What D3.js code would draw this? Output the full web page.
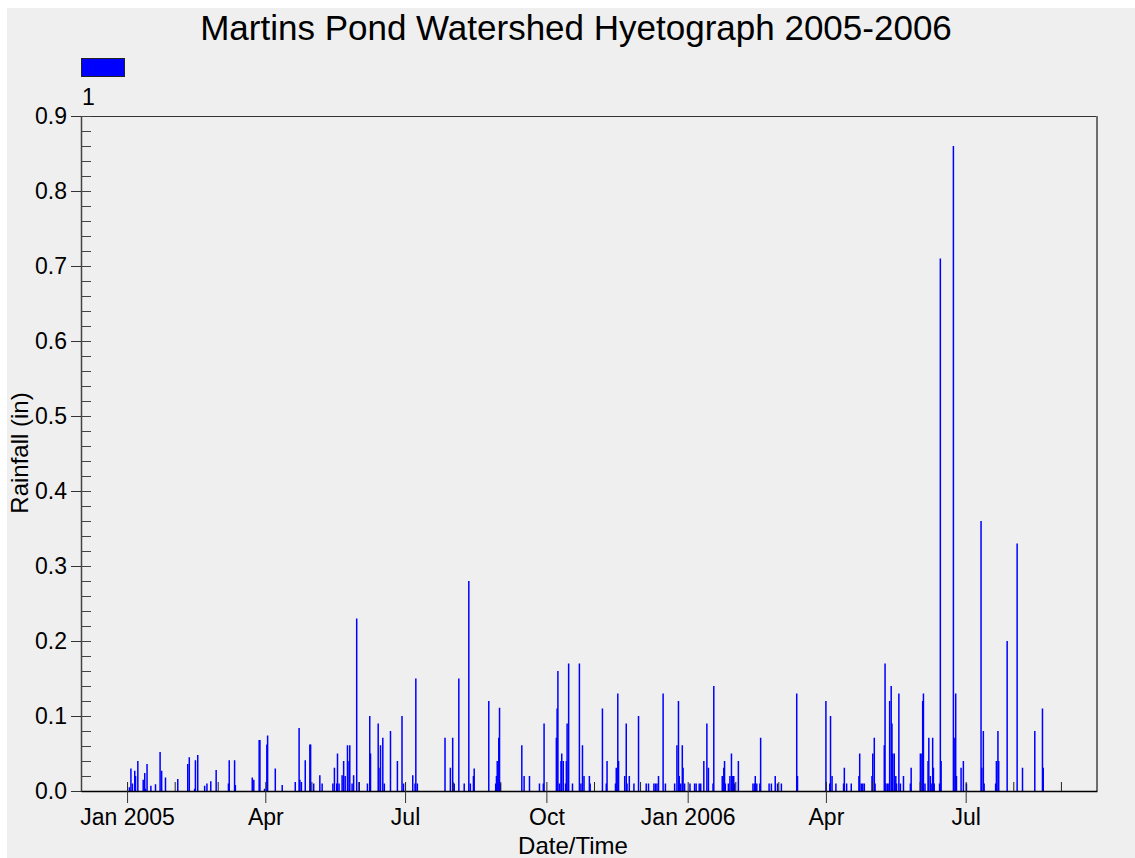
<!DOCTYPE html>
<html><head><meta charset="utf-8">
<script src="https://cdn.jsdelivr.net/npm/d3@7"></script>
<style>
body{margin:0;background:#fff}
svg{display:block}
text{font-family:"Liberation Sans",Arial,sans-serif;fill:#000}
</style>
</head><body>
<svg id="chart" width="1135" height="858"></svg>
<script>
const chartTitle = "Martins Pond Watershed Hyetograph 2005-2006";
const seriesName = "1";
const xTitle = "Date/Time";
const yTitle = "Rainfall (in)";

const dates = [
"2005-01-02 12","2005-01-03 12","2005-01-04 12","2005-01-06 00","2005-01-06 12","2005-01-08 00","2005-01-11 12","2005-01-12 12","2005-01-13 00","2005-01-14 00",
"2005-01-16 12","2005-01-19 12","2005-01-22 12","2005-01-23 12","2005-01-26 00","2005-02-03 00","2005-02-09 12","2005-02-10 12","2005-02-14 00","2005-02-14 12",
"2005-02-16 00","2005-02-20 12","2005-02-22 00","2005-02-24 12","2005-02-28 00","2005-03-08 00","2005-03-08 12","2005-03-12 00","2005-03-12 12","2005-03-23 12",
"2005-03-24 12","2005-03-28 00","2005-03-28 12","2005-03-31 12","2005-04-02 00","2005-04-02 12","2005-04-07 12","2005-04-12 00","2005-04-20 12","2005-04-23 00",
"2005-04-23 12","2005-04-24 12","2005-04-27 00","2005-04-30 00","2005-04-30 12","2005-05-02 12","2005-05-06 12","2005-05-08 00","2005-05-15 00","2005-05-16 00",
"2005-05-17 12","2005-05-18 00","2005-05-19 00","2005-05-21 00","2005-05-22 00","2005-05-23 00","2005-05-24 12","2005-05-25 12","2005-05-26 00","2005-05-27 12",
"2005-05-28 12","2005-05-30 12","2005-06-01 00","2005-06-06 12","2005-06-08 00","2005-06-08 12","2005-06-13 12","2005-06-14 00","2005-06-15 00","2005-06-16 12",
"2005-06-17 12","2005-06-21 12","2005-06-26 00","2005-06-29 00","2005-06-30 00","2005-07-06 00","2005-07-07 12","2005-07-08 00","2005-07-09 00","2005-07-27 00",
"2005-07-30 12","2005-08-01 00","2005-08-02 00","2005-08-05 00","2005-08-08 12","2005-08-11 12","2005-08-12 12","2005-08-14 12","2005-08-15 00","2005-08-24 12",
"2005-08-29 00","2005-08-29 12","2005-08-30 00","2005-08-31 00","2005-08-31 12","2005-09-01 00","2005-09-15 00","2005-09-16 12","2005-09-20 00","2005-09-26 12",
"2005-09-29 00","2005-09-29 12","2005-10-07 12","2005-10-08 00","2005-10-08 12","2005-10-09 12","2005-10-10 12","2005-10-11 00","2005-10-12 00","2005-10-13 12",
"2005-10-14 00","2005-10-14 12","2005-10-15 12","2005-10-18 00","2005-10-22 12","2005-10-23 12","2005-10-24 12","2005-10-25 12","2005-10-29 00","2005-10-29 12",
"2005-11-06 12","2005-11-09 00","2005-11-09 12","2005-11-15 00","2005-11-15 12","2005-11-16 12","2005-11-17 00","2005-11-21 00","2005-11-22 00","2005-11-22 12",
"2005-11-24 00","2005-11-27 00","2005-11-30 00","2005-12-05 00","2005-12-06 12","2005-12-10 00","2005-12-11 00","2005-12-12 00","2005-12-13 00","2005-12-16 00",
"2005-12-17 12","2005-12-23 12","2005-12-25 00","2005-12-26 00","2005-12-26 12","2005-12-27 12","2005-12-28 12","2005-12-29 00","2005-12-30 00","2006-01-02 12",
"2006-01-05 12","2006-01-06 12","2006-01-08 12","2006-01-09 12","2006-01-11 12","2006-01-13 12","2006-01-14 12","2006-01-17 12","2006-01-18 00","2006-01-23 12",
"2006-01-24 12","2006-01-25 00","2006-01-25 12","2006-01-27 12","2006-01-28 12","2006-01-29 12","2006-01-30 00","2006-01-31 00","2006-01-31 12","2006-02-03 00",
"2006-02-12 12","2006-02-13 12","2006-02-14 00","2006-02-15 00","2006-02-17 00","2006-02-17 12","2006-02-23 00","2006-02-24 12","2006-02-27 00","2006-02-28 12",
"2006-03-03 00","2006-03-13 00","2006-03-13 12","2006-04-01 00","2006-04-03 12","2006-04-04 00","2006-04-05 00","2006-04-07 12","2006-04-12 12","2006-04-13 00",
"2006-04-14 12","2006-04-17 12","2006-04-22 12","2006-04-23 00","2006-04-24 00","2006-04-25 00","2006-04-26 00","2006-05-01 00","2006-05-01 12","2006-05-02 12",
"2006-05-03 00","2006-05-09 00","2006-05-09 12","2006-05-10 00","2006-05-11 00","2006-05-12 00","2006-05-12 12","2006-05-13 12","2006-05-14 00","2006-05-14 12",
"2006-05-15 12","2006-05-16 12","2006-05-17 00","2006-05-18 12","2006-05-19 12","2006-05-21 12","2006-05-26 00","2006-05-26 12","2006-06-01 12","2006-06-02 12",
"2006-06-03 00","2006-06-03 12","2006-06-04 12","2006-06-06 12","2006-06-07 00","2006-06-08 00","2006-06-08 12","2006-06-09 12","2006-06-10 00","2006-06-10 12",
"2006-06-14 00","2006-06-14 12","2006-06-15 00","2006-06-23 00","2006-06-23 12","2006-06-24 12","2006-06-25 00","2006-06-28 00","2006-06-29 12","2006-07-01 12",
"2006-07-11 00","2006-07-11 12","2006-07-12 12","2006-07-13 00","2006-07-20 12","2006-07-21 00","2006-07-22 00","2006-07-22 12","2006-07-28 00","2006-08-03 12",
"2006-08-07 00","2006-08-15 00","2006-08-20 00","2006-08-20 12"
];

const rainfall = [
0.005,0.03,0.01,0.027,0.02,0.04,0.015,0.024,0.003,0.036,
0.007,0.009,0.052,0.027,0.018,0.016,0.036,0.045,0.003,0.041,
0.048,0.007,0.01,0.013,0.028,0.01,0.041,0.041,0.008,0.018,
0.015,0.068,0.068,0.003,0.062,0.074,0.03,0.008,0.012,0.084,
0.015,0.012,0.041,0.062,0.062,0.01,0.021,0.01,0.01,0.031,
0.01,0.05,0.01,0.021,0.04,0.02,0.061,0.04,0.061,0.01,
0.021,0.23,0.012,0.01,0.1,0.05,0.09,0.031,0.061,0.071,
0.01,0.08,0.04,0.1,0.01,0.021,0.01,0.15,0.01,0.071,
0.031,0.071,0.01,0.15,0.01,0.28,0.01,0.02,0.03,0.12,
0.01,0.02,0.04,0.071,0.111,0.01,0.061,0.02,0.02,0.01,
0.01,0.09,0.071,0.11,0.16,0.01,0.04,0.05,0.04,0.01,
0.04,0.09,0.17,0.01,0.17,0.01,0.061,0.02,0.02,0.01,
0.11,0.01,0.04,0.01,0.031,0.13,0.04,0.02,0.09,0.01,
0.02,0.01,0.1,0.01,0.01,0.01,0.01,0.01,0.02,0.13,
0.01,0.01,0.061,0.12,0.02,0.01,0.061,0.031,0.01,0.01,
0.01,0.01,0.01,0.01,0.04,0.09,0.031,0.01,0.14,0.02,
0.031,0.04,0.01,0.01,0.02,0.05,0.02,0.02,0.01,0.04,
0.01,0.01,0.02,0.01,0.01,0.071,0.01,0.01,0.02,0.01,
0.01,0.13,0.02,0.12,0.01,0.1,0.02,0.01,0.01,0.031,
0.01,0.01,0.02,0.05,0.01,0.01,0.01,0.02,0.05,0.071,
0.01,0.061,0.17,0.01,0.01,0.01,0.12,0.14,0.09,0.05,
0.05,0.02,0.01,0.13,0.01,0.02,0.01,0.031,0.05,0.05,
0.12,0.13,0.01,0.04,0.071,0.02,0.01,0.071,0.031,0.01,
0.01,0.71,0.04,0.86,0.071,0.13,0.02,0.031,0.04,0.01,
0.36,0.031,0.08,0.01,0.01,0.04,0.08,0.04,0.2,0.33,
0.031,0.08,0.11,0.031
];

const xDomain = ["2004-12-02 00","2006-09-24 12"];
const majorTickDates = ["2005-01-01 00","2005-04-01 00","2005-07-01 00","2005-10-01 00","2006-01-01 00","2006-04-01 00","2006-07-01 00"];
const majorTickLabels = ["Jan 2005","Apr","Jul","Oct","Jan 2006","Apr","Jul"];
const yTickValues = [0,0.1,0.2,0.3,0.4,0.5,0.6,0.7,0.8,0.9];
const yDomain = [0,0.9];

const parse = d3.timeParse("%Y-%m-%d %H");
const data = dates.map((d,i)=>({date:parse(d), value:rainfall[i]}));

const W = 1135, H = 858;
const plot = {left:81, right:1097, top:116, bottom:791};
const svg = d3.select("#chart");

svg.append("rect").attr("x",0).attr("y",0).attr("width",W).attr("height",H).attr("fill","#ffffff");
svg.append("rect").attr("x",7).attr("y",8).attr("width",W-7).attr("height",H-8).attr("fill","#efefef");

const x = d3.scaleTime().domain(xDomain.map(parse)).range([plot.left, plot.right]);
const y = d3.scaleLinear().domain(yDomain).range([plot.bottom, plot.top]);

// title
svg.append("text").attr("x",576).attr("y",40).attr("text-anchor","middle")
  .style("font-size","35px").text(chartTitle);

// legend
svg.append("rect").attr("x",81.5).attr("y",58.5).attr("width",43).attr("height",18)
  .attr("fill","#0000ff").attr("stroke","#222").attr("stroke-width",1);
svg.append("text").attr("x",82).attr("y",105).style("font-size","23px").text(seriesName);

// frame top and right
svg.append("line").attr("x1",plot.left).attr("x2",plot.right).attr("y1",plot.top+0.5).attr("y2",plot.top+0.5)
  .attr("stroke","#333").attr("stroke-width",1);
svg.append("line").attr("x1",plot.right).attr("x2",plot.right).attr("y1",plot.top).attr("y2",plot.bottom)
  .attr("stroke","#6e6e6e").attr("stroke-width",2);

// bars
const barW = 1.5;
svg.append("g").selectAll("rect").data(data).join("rect")
  .attr("x", d => x(d.date) - barW/2)
  .attr("width", barW)
  .attr("y", d => y(d.value))
  .attr("height", d => y(0) - y(d.value))
  .attr("fill", "#0000ff");

// y axis
const yAxis = svg.append("g").attr("transform",`translate(${plot.left},0)`)
  .call(d3.axisLeft(y).tickValues(yTickValues).tickSize(10).tickSizeOuter(0).tickPadding(4).tickFormat(d3.format(".1f")));
yAxis.select(".domain").attr("stroke","#444").attr("stroke-width",1.5);
yAxis.selectAll(".tick line").attr("stroke","#333");
yAxis.selectAll("text").style("font-size","23px").attr("fill","#000");

const yMinor = d3.range(0, 0.9001, 0.02).map(v=>+v.toFixed(2));
const yAxisMinor = svg.append("g").attr("transform",`translate(${plot.left},0)`)
  .call(d3.axisRight(y).tickValues(yMinor).tickSize(10).tickFormat(""));
yAxisMinor.select(".domain").remove();
yAxisMinor.selectAll(".tick line").attr("stroke","#444");

// x axis
const majors = majorTickDates.map(parse);
const xAxis = svg.append("g").attr("transform",`translate(0,${plot.bottom})`)
  .call(d3.axisBottom(x).tickValues(majors).tickSize(12).tickSizeOuter(0).tickPadding(6)
    .tickFormat((d,i)=>majorTickLabels[i]));
xAxis.select(".domain").attr("stroke","#000").attr("stroke-width",1.5);
xAxis.selectAll(".tick line").attr("stroke","#333");
xAxis.selectAll("text").style("font-size","23px").attr("fill","#000");

const months = d3.timeMonth.range(x.domain()[0], x.domain()[1]);
const xAxisMinor = svg.append("g").attr("transform",`translate(0,${plot.bottom})`)
  .call(d3.axisTop(x).tickValues(months).tickSize(9).tickFormat(""));
xAxisMinor.select(".domain").remove();
xAxisMinor.selectAll(".tick line").attr("stroke","#222");

// axis titles
svg.append("text").attr("x",573).attr("y",854).attr("text-anchor","middle")
  .style("font-size","24px").text(xTitle);
svg.append("text").attr("transform","translate(28,453) rotate(-90)").attr("text-anchor","middle")
  .style("font-size","24px").text(yTitle);
</script>
</body></html>
